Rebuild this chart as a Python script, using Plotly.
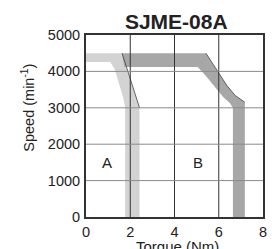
import plotly.graph_objects as go

# ---- data ----
x_ticks = [0, 2, 4, 6, 8]
y_ticks = [0, 1000, 2000, 3000, 4000, 5000]

# Region A boundary band (light)
light_outer_x = [0, 1.63, 2.42, 2.42]
light_outer_y = [4500, 4500, 3000, 0]
light_inner_x = [0, 1.1, 1.3, 1.5, 1.68, 1.77, 1.77]
light_inner_y = [4260, 4260, 4050, 3660, 3290, 3000, 0]

# Region B boundary band (dark)
dark_outer_x = [1.63, 5.42, 5.7, 5.97, 6.37, 6.74, 7.18, 7.18]
dark_outer_y = [4500, 4500, 4230, 3990, 3610, 3340, 3150, 0]
dark_inner_x = [1.73, 5.05, 5.45, 5.85, 6.2, 6.5, 6.64, 6.64]
dark_inner_y = [4120, 4120, 3850, 3560, 3300, 3130, 3000, 0]

region_labels = ["A", "B"]
region_label_x = [0.93, 5.04]
region_label_y = [1510, 1510]

title_text = "SJME-08A"
x_title = "Torque (Nm)"
y_title = "Speed (min<sup>-1</sup>)"

FONT = "Liberation Sans, Arial, Helvetica, sans-serif"
TXT = "#222222"

fig = go.Figure()

fig.add_trace(go.Scatter(
    x=light_outer_x + light_inner_x[::-1],
    y=light_outer_y + light_inner_y[::-1],
    fill="toself", fillcolor="#d3d3d3", mode="lines",
    line=dict(width=0), hoverinfo="skip", showlegend=False))
fig.add_trace(go.Scatter(
    x=dark_outer_x + dark_inner_x[::-1],
    y=dark_outer_y + dark_inner_y[::-1],
    fill="toself", fillcolor="#a7a7a7", mode="lines",
    line=dict(width=0), hoverinfo="skip", showlegend=False))
# outline strokes along outer edges
fig.add_trace(go.Scatter(
    x=light_outer_x[1:3], y=light_outer_y[1:3], mode="lines",
    line=dict(color="#444444", width=0.8), hoverinfo="skip", showlegend=False))
fig.add_trace(go.Scatter(
    x=dark_outer_x[1:7], y=dark_outer_y[1:7], mode="lines",
    line=dict(color="#444444", width=0.8), hoverinfo="skip", showlegend=False))

# grid lines drawn above the bands
for xv in x_ticks[1:-1]:
    fig.add_shape(type="line", xref="x", yref="paper", x0=xv, x1=xv, y0=0, y1=1,
                  line=dict(color="#333333", width=1), layer="above")
for yv in y_ticks[1:-1]:
    fig.add_shape(type="line", xref="paper", yref="y", x0=0, x1=1, y0=yv, y1=yv,
                  line=dict(color="#8a8a8a", width=1), layer="above")

for t, xv, yv in zip(region_labels, region_label_x, region_label_y):
    fig.add_annotation(x=xv, y=yv, text=t, showarrow=False,
                       font=dict(family=FONT, size=15, color=TXT))

fig.add_annotation(xref="paper", yref="paper", x=-0.326, y=0.602, text=y_title,
                   textangle=-90, showarrow=False, xanchor="center", yanchor="middle",
                   font=dict(family=FONT, size=14.5, color=TXT))
fig.add_annotation(xref="paper", yref="paper", x=0.517, y=-0.105, yanchor="top",
                   xanchor="center", text=x_title, showarrow=False,
                   font=dict(family=FONT, size=15, color=TXT))

fig.update_layout(
    width=272, height=249,
    margin=dict(l=86, r=5, t=35, b=32),
    paper_bgcolor="white", plot_bgcolor="white",
    title=dict(text="<b>" + title_text + "</b>", x=0.648, xanchor="center",
               y=0.913, yanchor="middle",
               font=dict(family=FONT, size=21, color=TXT)),
    xaxis=dict(range=[0, 8], tickvals=x_ticks, showgrid=False, zeroline=False,
               showline=True, linecolor="#333333", linewidth=2, mirror=True,
               ticks="outside", ticklen=1, tickcolor="rgba(0,0,0,0)",
               tickfont=dict(family=FONT, size=14.5, color=TXT), fixedrange=True),
    yaxis=dict(range=[0, 5000], tickvals=y_ticks, showgrid=False, zeroline=False,
               showline=True, linecolor="#333333", linewidth=2, mirror=True,
               ticks="outside", ticklen=1, tickcolor="rgba(0,0,0,0)",
               tickfont=dict(family=FONT, size=14.5, color=TXT), fixedrange=True),
)

fig.write_html("out.html", config={"displayModeBar": False},
               post_script="document.body.style.margin='0';document.body.style.overflow='hidden';")
